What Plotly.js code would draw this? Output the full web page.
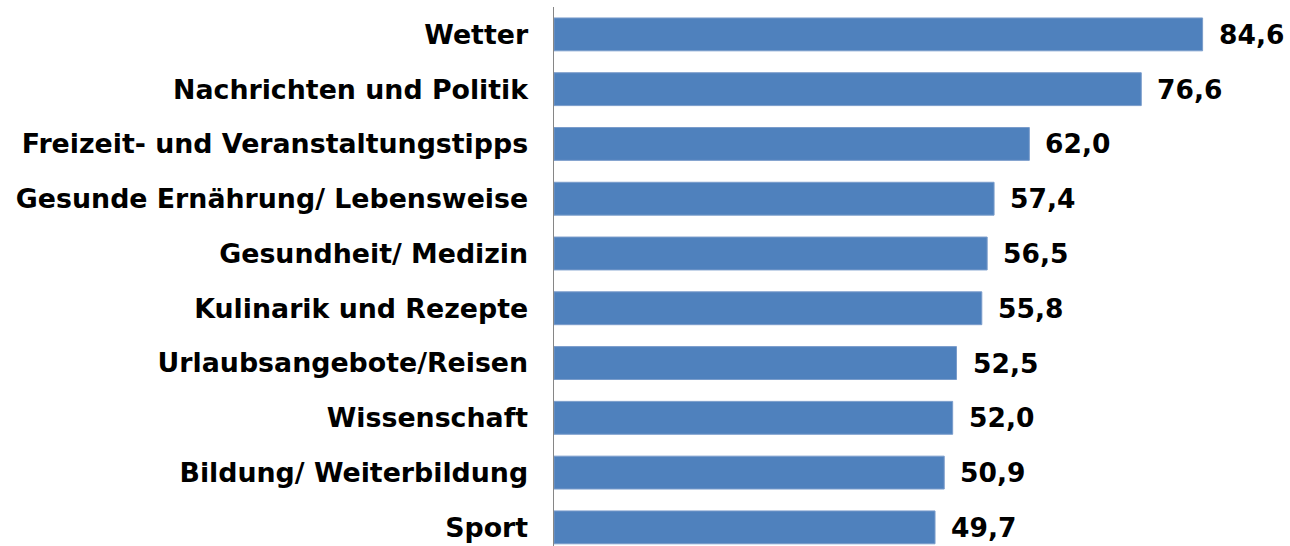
<!DOCTYPE html>
<html>
<head>
<meta charset="utf-8">
<script src="https://cdn.plot.ly/plotly-3.0.1.min.js"></script>
<style>html,body{margin:0;padding:0;background:#fff;}#chart{width:1290px;height:546px;}</style>
</head>
<body>
<div id="chart"></div>
<script>
const categories = [
  "Wetter",
  "Nachrichten und Politik",
  "Freizeit- und Veranstaltungstipps",
  "Gesunde Ernährung/ Lebensweise",
  "Gesundheit/ Medizin",
  "Kulinarik und Rezepte",
  "Urlaubsangebote/Reisen",
  "Wissenschaft",
  "Bildung/ Weiterbildung",
  "Sport"
];
const values = [84.6, 76.6, 62.0, 57.4, 56.5, 55.8, 52.5, 52.0, 50.9, 49.7];
const valueLabels = values.map(v => v.toFixed(1).replace('.', ','));

const font = {family: "DejaVu Sans, Verdana, sans-serif", size: 26.5, color: "#000"};

const trace = {
  type: "bar",
  orientation: "h",
  x: values,
  y: categories,
  width: 0.6,
  marker: {color: "#4F81BD", line: {color: "#7A9CCB", width: 1}},
  hoverinfo: "skip"
};

const annotations = values.map((v, i) => ({
  x: v, y: categories[i], xref: "x", yref: "y",
  text: "<b>" + valueLabels[i] + "</b>",
  showarrow: false, xanchor: "left", yanchor: "middle",
  xshift: 14, font: font
}));

const layout = {
  width: 1290, height: 546,
  margin: {l: 554, r: 0, t: 7, b: 0, pad: 0},
  paper_bgcolor: "#fff", plot_bgcolor: "#fff",
  showlegend: false,
  font: font,
  xaxis: {range: [0, 96], visible: false, fixedrange: true},
  yaxis: {
    type: "category",
    range: [9.34, -0.5],
    showline: true, linecolor: "#868686", linewidth: 1.5,
    showgrid: false, zeroline: false, ticks: "",
    ticklabelstandoff: 19,
    tickfont: {family: "DejaVu Sans, Verdana, sans-serif", size: 26.8, color: "#000", weight: "bold"},
    fixedrange: true
  },
  annotations: annotations
};

Plotly.newPlot("chart", [trace], layout, {displayModeBar: false, staticPlot: true});
</script>
</body>
</html>
